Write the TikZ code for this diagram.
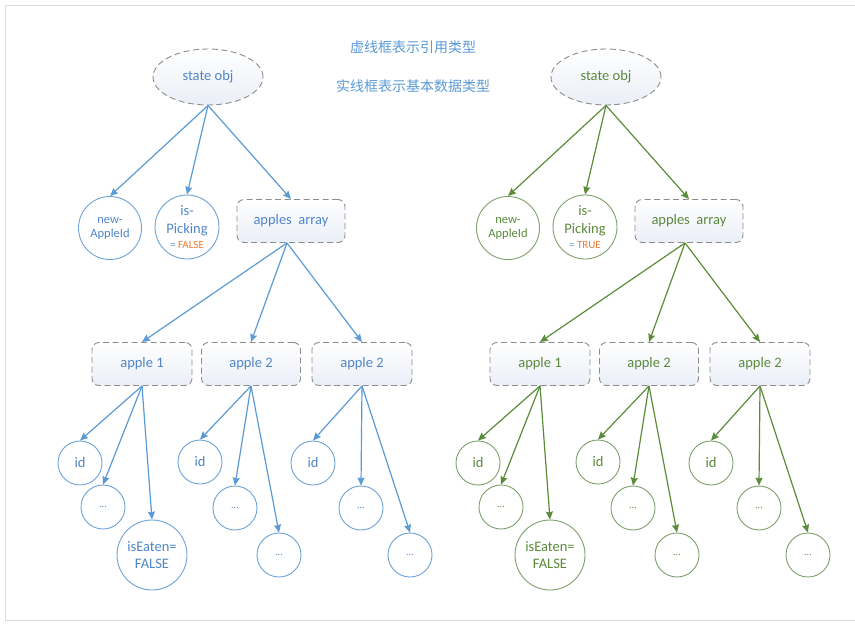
\documentclass[tikz,border=0pt]{standalone}
\usepackage{fontspec}
\setmainfont{Carlito}
\newfontfamily\cjk{Noto Sans CJK SC}
\usetikzlibrary{shapes.geometric,arrows.meta}

\definecolor{bl}{HTML}{5B9BD5}
\definecolor{bltxt}{HTML}{4F86C6}
\definecolor{blc}{HTML}{6EA3D8}
\definecolor{gr}{HTML}{5B8C3A}
\definecolor{grtxt}{HTML}{5A8A3C}
\definecolor{grc}{HTML}{7FA06E}
\definecolor{dgray}{HTML}{8C8C8C}
\definecolor{org}{HTML}{ED7D31}
\definecolor{fr}{HTML}{DCDCDC}
\definecolor{boxbot}{HTML}{EAEEF6}

\tikzset{
  reft/.style={draw=dgray, dash pattern=on 6pt off 3.5pt, line width=0.9pt,
    top color=white, bottom color=boxbot},
  refbox/.style={reft, rectangle, rounded corners=7pt, minimum width=100pt,
    minimum height=43pt, inner sep=0pt},
  refell/.style={reft, ellipse, minimum width=110pt, minimum height=56pt, inner sep=0pt},
  valc/.style={circle, draw, fill=white, line width=0.9pt, inner sep=0pt, align=center},
  small/.style={font=\fontsize{12.5}{14}\selectfont},
  dots/.style={font=\fontsize{10}{12}\selectfont}
}

\newcommand\mytree[6]{%
\begin{scope}[shift={(#2,0)},
  every node/.append style={text=#4},
  arr/.style={draw=#3, line width=1.2pt, -{Stealth[length=8pt,width=7pt,inset=1pt]}},
  vc/.style={valc, draw=#5}]
  \node[refell] (#1so) at (208,77) {state obj};
  \node[vc, minimum size=63pt, small] (#1na) at (110,228) {new-\\AppleId};
  \node[vc, minimum size=64pt] (#1ip) at (187,227)
    {is-\\[1pt]Picking\\[-2pt]{\fontsize{11}{12}\selectfont\textcolor{bl}{=} \textcolor{org}{#6}}};
  \node[refbox, minimum width=108pt] (#1aa) at (291,221) {apples\ \ array};
  \node[refbox] (#1a1) at (142,364) {apple 1};
  \node[refbox, minimum width=99pt] (#1a2) at (251,364) {apple 2};
  \node[refbox] (#1a3) at (362,364) {apple 2};
  \node[vc, minimum size=44pt] (#1c11) at (80,463) {id};
  \node[vc, minimum size=44pt, dots] (#1c12) at (103,507) {...};
  \node[vc, minimum size=70pt] (#1c13) at (152,555) {isEaten=\\FALSE};
  \node[vc, minimum size=44pt] (#1c21) at (200,462) {id};
  \node[vc, minimum size=44pt, dots] (#1c22) at (235,508) {...};
  \node[vc, minimum size=44pt, dots] (#1c23) at (279,555) {...};
  \node[vc, minimum size=44pt] (#1c31) at (313,463) {id};
  \node[vc, minimum size=44pt, dots] (#1c32) at (361,508) {...};
  \node[vc, minimum size=44pt, dots] (#1c33) at (410,555) {...};
  \draw[arr] (#1so.south) -- (#1na.north);
  \draw[arr] (#1so.south) -- (#1ip.north);
  \draw[arr] (#1so.south) -- (#1aa.north);
  \draw[arr] ([xshift=-4pt]#1aa.south) -- (#1a1.north);
  \draw[arr] ([xshift=-4pt]#1aa.south) -- (#1a2.north);
  \draw[arr] ([xshift=-4pt]#1aa.south) -- (#1a3.north);
  \draw[arr] (#1a1.south) -- (#1c11.north);
  \draw[arr] (#1a1.south) -- (#1c12.north);
  \draw[arr] (#1a1.south) -- (#1c13.north);
  \draw[arr] (#1a2.south) -- (#1c21.north);
  \draw[arr] (#1a2.south) -- (#1c22.north);
  \draw[arr] (#1a2.south) -- (#1c23.north);
  \draw[arr] (#1a3.south) -- (#1c31.north);
  \draw[arr] (#1a3.south) -- (#1c32.north);
  \draw[arr] (#1a3.south) -- (#1c33.north);
\end{scope}}

\begin{document}
\begin{tikzpicture}[x=1pt, y=-1pt, font=\fontsize{14.5}{17}\selectfont]
  \useasboundingbox (0,0) rectangle (855,624);
  \fill[white] (0,0) rectangle (855,624);
  \draw[fr, line width=1pt] (857,5) -- (5,5) -- (5,620) -- (857,620);
  \node[text=bl, font=\cjk\fontsize{14}{17}\selectfont] (t1) at (413,47) {虚线框表示引用类型};
  \node[text=bl, font=\cjk\fontsize{14}{17}\selectfont] (t2) at (413,86) {实线框表示基本数据类型};
  \mytree{L}{0}{bl}{bltxt}{blc}{FALSE}
  \mytree{R}{398}{gr}{grtxt}{grc}{TRUE}
\end{tikzpicture}
\end{document}
